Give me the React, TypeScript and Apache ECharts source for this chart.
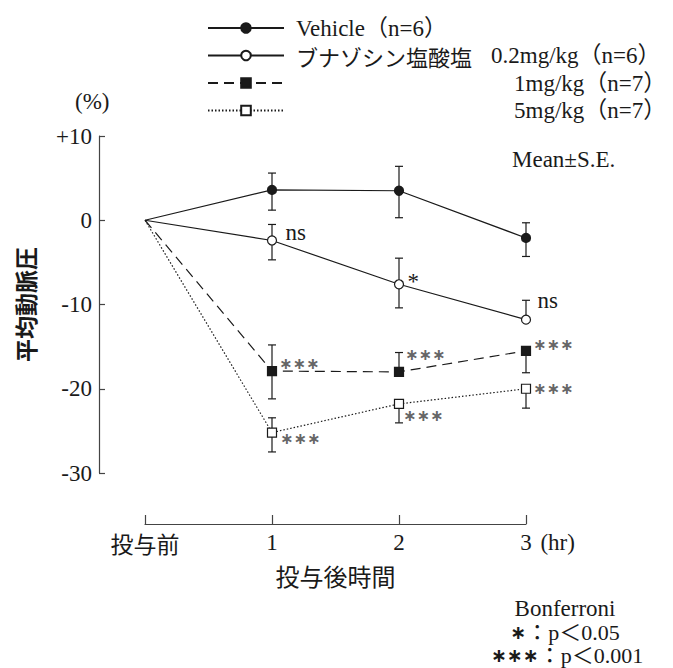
import React, { useEffect, useRef } from 'react';
import * as echarts from 'echarts';

// ---- data ----
const timePoints = [0, 1, 2, 3];
const xTickLabels = ['投与前', '1', '2', '3'];
const xUnit = ' (hr)';
const yMin = -30;
const yMax = 10;
const yStep = 10;

const seriesNames = ['Vehicle（n=6）', 'ブナゾシン塩酸塩 0.2mg/kg（n=6）', '1mg/kg（n=7）', '5mg/kg（n=7）'];

const vehicleMean = [0, 3.6, 3.5, -2.1];
const vehicleSeUp = [0, 2.0, 2.9, 1.8];
const vehicleSeDown = [0, 2.4, 3.2, 2.2];
const vehicleSig = ['', '', '', ''];

const low02Mean = [0, -2.4, -7.6, -11.8];
const low02SeUp = [0, 1.9, 3.1, 2.3];
const low02SeDown = [0, 2.3, 2.8, 0];
const low02Sig = ['', 'ns', '*', 'ns'];

const mid1Mean = [0, -17.9, -18.0, -15.5];
const mid1SeUp = [0, 3.1, 2.3, 0];
const mid1SeDown = [0, 3.3, 0, 2.6];
const mid1Sig = ['', '∗∗∗', '∗∗∗', '∗∗∗'];

const high5Mean = [0, -25.2, -21.8, -20.0];
const high5SeUp = [0, 1.75, 0, 0];
const high5SeDown = [0, 2.3, 2.25, 2.3];
const high5Sig = ['', '∗∗∗', '∗∗∗', '∗∗∗'];

const statTitle = 'Bonferroni';
const statStars = ['∗', '∗∗∗'];
const statText = ['：p＜0.05', '：p＜0.001'];

// ---- styles ----
const SERIF = "Liberation Serif, DejaVu Serif, Noto Sans CJK JP, serif";
const CJK = "Noto Sans CJK JP, Liberation Serif, sans-serif";
const STAR = "DejaVu Sans, Noto Sans CJK JP, sans-serif";
const INK = '#1a1a1a';
const AXIS = '#444';

const sigOffsets = [
  [null, null, null, null],
  [null, [8.5, -8], [3.5, -3], [6.5, -19]],
  [null, [2, -8], [1, -17], [2, -6]],
  [null, [3, 6], [-1, 12], [2, 0]],
];

const groups = [
  { name: seriesNames[0], mean: vehicleMean, up: vehicleSeUp, down: vehicleSeDown, sig: vehicleSig, symbol: 'circle', fill: INK, dash: 'solid' as any },
  { name: seriesNames[1], mean: low02Mean, up: low02SeUp, down: low02SeDown, sig: low02Sig, symbol: 'circle', fill: '#fff', dash: 'solid' as any },
  { name: seriesNames[2], mean: mid1Mean, up: mid1SeUp, down: mid1SeDown, sig: mid1Sig, symbol: 'rect', fill: INK, dash: [10, 6] as any },
  { name: seriesNames[3], mean: high5Mean, up: high5SeUp, down: high5SeDown, sig: high5Sig, symbol: 'rect', fill: '#fff', dash: [1.5, 2] as any },
];

function sigLabelStyle(text: string, off: number[]) {
  const isStar = text.indexOf('∗') >= 0;
  return {
    show: true,
    formatter: text,
    position: 'right',
    distance: 0,
    offset: off,
    fontFamily: isStar ? STAR : SERIF,
    fontSize: isStar ? 16 : 23,
    fontWeight: isStar ? 'bold' : 'normal',
    color: isStar ? '#666' : INK,
  };
}

export default function App() {
  const ref = useRef<HTMLDivElement>(null);

  useEffect(() => {
    if (!ref.current) return;
    const chart = echarts.init(ref.current, undefined, { renderer: 'svg' });

    const lineSeries = groups.map((g, gi) => ({
      type: 'line',
      name: g.name,
      symbol: g.symbol,
      symbolSize: 9,
      z: 3,
      silent: true,
      lineStyle: { color: INK, width: 1.2, type: g.dash },
      itemStyle: { color: g.fill, borderColor: INK, borderWidth: 1.2 },
      emphasis: { disabled: true },
      data: timePoints.map((t, i) => {
        const item: any = { value: [t, g.mean[i]] };
        if (i === 0) item.symbol = 'none';
        if (g.sig[i]) item.label = sigLabelStyle(g.sig[i], sigOffsets[gi][i] as number[]);
        return item;
      }),
    }));

    const errData: number[][] = [];
    groups.forEach((g) => {
      timePoints.forEach((t, i) => {
        if (g.up[i] > 0 || g.down[i] > 0) errData.push([t, g.mean[i], g.up[i], g.down[i]]);
      });
    });

    const errorSeries = {
      type: 'custom',
      z: 2,
      silent: true,
      data: errData,
      encode: { x: 0, y: 1 },
      renderItem: (params: any, api: any) => {
        const x = api.value(0);
        const y = api.value(1);
        const up = api.value(2);
        const dn = api.value(3);
        const c = api.coord([x, y]);
        const cap = 4;
        const style = { stroke: INK, lineWidth: 1.2 };
        const children: any[] = [];
        if (up > 0) {
          const t = api.coord([x, y + up]);
          children.push({ type: 'line', shape: { x1: c[0], y1: c[1], x2: t[0], y2: t[1] }, style });
          children.push({ type: 'line', shape: { x1: t[0] - cap, y1: t[1], x2: t[0] + cap, y2: t[1] }, style });
        }
        if (dn > 0) {
          const b = api.coord([x, y - dn]);
          children.push({ type: 'line', shape: { x1: c[0], y1: c[1], x2: b[0], y2: b[1] }, style });
          children.push({ type: 'line', shape: { x1: b[0] - cap, y1: b[1], x2: b[0] + cap, y2: b[1] }, style });
        }
        return { type: 'group', children };
      },
    };

    const noteRich = {
      s: { fontFamily: STAR, fontSize: 19, fontWeight: 'bold', fill: INK, color: INK },
      t: { fontFamily: SERIF, fontSize: 22, fill: INK, color: INK },
    };

    const option: any = {
      animation: false,
      backgroundColor: '#fff',
      textStyle: { fontFamily: SERIF },
      grid: { left: 145, right: 147, top: 136, bottom: 195, containLabel: false },
      legend: {
        data: seriesNames,
        orient: 'vertical',
        left: 202,
        top: 11,
        itemWidth: 76,
        itemHeight: 12,
        itemGap: 3.5,
        selectedMode: false,
        textStyle: {
          fontFamily: SERIF,
          fontSize: 23,
          color: INK,
          lineHeight: 24,
          padding: [0, 0, 0, 7],
          rich: {
            en: { fontFamily: SERIF, fontSize: 23, color: INK, lineHeight: 24 },
            jp: { fontFamily: CJK, fontSize: 22, color: INK, width: 195, lineHeight: 24 },
            pad: { width: 218, lineHeight: 24 },
          },
        },
        formatter: (name: string) => {
          if (name === seriesNames[1]) {
            const sp = name.indexOf(' ');
            return '{jp|' + name.slice(0, sp) + '}{en|' + name.slice(sp + 1) + '}';
          }
          if (name === seriesNames[2] || name === seriesNames[3]) return '{pad|}{en|' + name + '}';
          return '{en|' + name + '}';
        },
      },
      xAxis: {
        type: 'value',
        min: timePoints[0],
        max: timePoints[timePoints.length - 1],
        interval: 1,
        offset: 51,
        axisLine: { show: true, onZero: false, lineStyle: { color: AXIS, width: 1.2 } },
        axisTick: { show: true, inside: true, length: 9, lineStyle: { color: AXIS, width: 1.2 } },
        splitLine: { show: false },
        axisLabel: {
          margin: 7,
          color: INK,
          fontFamily: SERIF,
          fontSize: 23,
          formatter: (v: number) => {
            const idx = timePoints.indexOf(v);
            if (idx === 0) return '{jp|' + xTickLabels[idx] + '}';
            if (idx === timePoints.length - 1) return '{pad|}{n|' + xTickLabels[idx] + '}{u|' + xUnit + '}';
            return '{n|' + xTickLabels[idx] + '}';
          },
          rich: {
            jp: { fontFamily: CJK, fontSize: 23, color: INK },
            n: { fontFamily: SERIF, fontSize: 23, color: INK },
            u: { fontFamily: SERIF, fontSize: 23, color: INK, width: 46 },
            pad: { width: 46 },
          },
        },
        name: '投与後時間',
        nameLocation: 'middle',
        nameGap: 39,
        nameTextStyle: { fontFamily: CJK, fontSize: 24, color: INK, verticalAlign: 'top' },
      },
      yAxis: {
        type: 'value',
        min: yMin,
        max: yMax,
        interval: yStep,
        offset: 46,
        axisLine: { show: true, onZero: false, lineStyle: { color: AXIS, width: 1.2 } },
        axisTick: { show: true, inside: true, length: 6, lineStyle: { color: AXIS, width: 1.2 } },
        splitLine: { show: false },
        axisLabel: {
          margin: 7,
          color: INK,
          fontFamily: SERIF,
          fontSize: 23,
          formatter: (v: number) => '{n|' + (v > 0 ? '+' + v : String(v)) + '}',
          rich: { n: { fontFamily: SERIF, fontSize: 23, color: INK } },
        },
        name: '平均動脈圧',
        nameLocation: 'middle',
        nameRotate: 90,
        nameGap: 63,
        nameTextStyle: { fontFamily: CJK, fontSize: 23, fontWeight: 'bold', color: INK },
      },
      graphic: [
        { type: 'text', left: 75, top: 90, style: { text: '(%)', font: '23px ' + SERIF, fill: INK } },
        { type: 'text', left: 512, top: 148, style: { text: 'Mean±S.E.', font: '23px ' + SERIF, fill: INK } },
        { type: 'text', x: 565, y: 608, style: { text: statTitle, font: '23px ' + SERIF, fill: INK, align: 'center', verticalAlign: 'middle' } },
        { type: 'text', x: 565, y: 632, style: { text: '{s|' + statStars[0] + '}{t|' + statText[0] + '}', rich: noteRich, align: 'center', verticalAlign: 'middle' } },
        { type: 'text', x: 567, y: 655, style: { text: '{s|' + statStars[1] + '}{t|' + statText[1] + '}', rich: noteRich, align: 'center', verticalAlign: 'middle' } },
      ],
      series: [errorSeries, ...lineSeries],
    };

    chart.setOption(option);
    return () => chart.dispose();
  }, []);

  return <div ref={ref} style={{ position: 'fixed', left: 0, top: 0, width: 673, height: 668, background: '#fff' }} />;
}
